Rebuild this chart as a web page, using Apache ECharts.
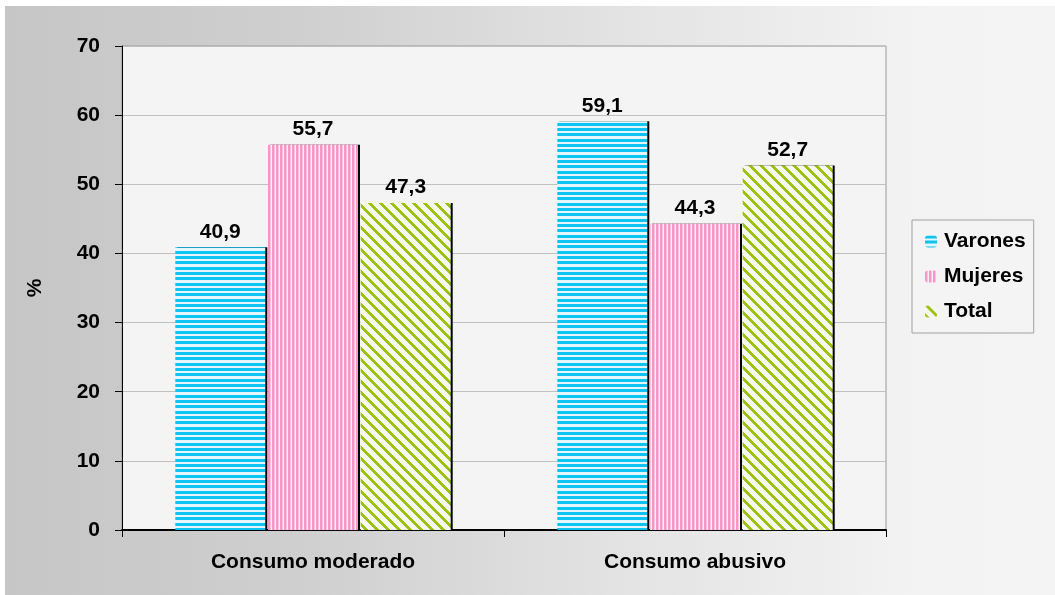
<!DOCTYPE html>
<html>
<head>
<meta charset="utf-8">
<title>Consumo</title>
<script src="https://cdn.jsdelivr.net/npm/echarts@6/dist/echarts.min.js"></script>
<style>
  html, body { margin: 0; padding: 0; background: #fff; }
  #chart { width: 1055px; height: 595px; }
</style>
</head>
<body>
<div id="chart"></div>
<script>
var categories = ['Consumo moderado', 'Consumo abusivo']
var seriesNames = ['Varones', 'Mujeres', 'Total']
var varones = [40.9, 59.1]
var mujeres = [55.7, 44.3]
var total = [47.3, 52.7]
var yTicks = [0, 10, 20, 30, 40, 50, 60, 70]

var FONT = '"Liberation Sans", Arial, sans-serif'

// builds a small repeating tile, pixel by pixel
function makeTile (w, h, paint) {
  var c = document.createElement('canvas')
  c.width = w
  c.height = h
  var ctx = c.getContext('2d')
  for (var y = 0; y < h; y++) {
    for (var x = 0; x < w; x++) {
      ctx.fillStyle = paint(x, y)
      ctx.fillRect(x, y, 1, 1)
    }
  }
  return { image: c, repeat: 'repeat' }
}

// horizontal cyan stripes
var cyanRows = [0, 1, 2, 5, 6, 7, 11, 12, 13]
var patVarones = makeTile(4, 16, function (x, y) {
  return cyanRows.indexOf(y) >= 0 ? '#0ec4f2' : '#e4f5fb'
})
// vertical pink stripes
var patMujeres = makeTile(4, 4, function (x, y) {
  return x < 2 ? '#f597c6' : (x === 2 ? '#f9c4de' : '#fbeef4')
})
// diagonal green stripes
var patTotal = makeTile(11, 11, function (x, y) {
  var d = ((x - y) % 11 + 11) % 11
  return d < 4 ? '#9cc20e' : '#f6f6f0'
})

var chart = echarts.init(document.getElementById('chart'))

var labelFmt = function (p) {
  return String(p.value).replace('.', ',')
}

function barSeries (name, data, pattern) {
  return {
    name: name,
    type: 'bar',
    data: data,
    barWidth: 90,
    barGap: '3%',
    itemStyle: {
      color: pattern,
      shadowColor: '#000',
      shadowBlur: 0,
      shadowOffsetX: 2,
      shadowOffsetY: 0
    },
    label: {
      show: true,
      position: 'top',
      distance: 5,
      formatter: labelFmt,
      color: '#000',
      fontFamily: FONT,
      fontWeight: 'bold',
      fontSize: 21
    }
  }
}

var option = {
  backgroundColor: '#ffffff',
  animation: false,
  graphic: {
    elements: [
      {
        type: 'rect',
        z: -10,
        silent: true,
        shape: { x: 5, y: 6, width: 1050, height: 589 },
        style: {
          fill: new echarts.graphic.LinearGradient(0, 0, 1, 0, [
            { offset: 0, color: '#c6c6c6' },
            { offset: 0.28, color: '#cfcfcf' },
            { offset: 0.57, color: '#e2e2e2' },
            { offset: 0.85, color: '#f2f2f2' },
            { offset: 1, color: '#f4f4f4' }
          ])
        }
      }
    ]
  },
  grid: {
    left: 122,
    right: 169,
    top: 46,
    bottom: 65,
    show: true,
    backgroundColor: '#f4f4f4',
    borderColor: '#9a9a9a',
    borderWidth: 1
  },
  legend: {
    data: seriesNames,
    orient: 'vertical',
    left: 912,
    top: 220,
    padding: [11, 8, 11, 13],
    itemGap: 14,
    itemWidth: 12,
    itemHeight: 12,
    backgroundColor: '#f4f4f4',
    borderColor: '#a0a0a0',
    borderWidth: 1,
    borderRadius: 0,
    itemStyle: { shadowColor: 'rgba(0,0,0,0)', shadowOffsetX: 0 },
    textStyle: {
      color: '#000',
      fontFamily: FONT,
      fontWeight: 'bold',
      fontSize: 21,
      lineHeight: 20,
      padding: [0, 0, 0, 2]
    }
  },
  xAxis: {
    type: 'category',
    data: categories,
    axisLine: { lineStyle: { color: '#000', width: 2 } },
    axisTick: { show: true, length: 7, lineStyle: { color: '#000' } },
    axisLabel: {
      margin: 22,
      color: '#000',
      fontFamily: FONT,
      fontWeight: 'bold',
      fontSize: 21
    }
  },
  yAxis: {
    type: 'value',
    min: yTicks[0],
    max: yTicks[yTicks.length - 1],
    interval: yTicks[1] - yTicks[0],
    name: '%',
    nameLocation: 'middle',
    nameGap: 76,
    nameTextStyle: {
      color: '#000',
      fontFamily: FONT,
      fontWeight: 'bold',
      fontSize: 21
    },
    axisLine: { show: true, lineStyle: { color: '#000', width: 1 } },
    axisTick: { show: true, length: 7, lineStyle: { color: '#000' } },
    splitLine: { lineStyle: { color: '#c0c0c0', width: 1 } },
    axisLabel: {
      margin: 22,
      color: '#000',
      fontFamily: FONT,
      fontWeight: 'bold',
      fontSize: 21
    }
  },
  series: [
    barSeries(seriesNames[0], varones, patVarones),
    barSeries(seriesNames[1], mujeres, patMujeres),
    barSeries(seriesNames[2], total, patTotal)
  ]
}

chart.setOption(option)
</script>
</body>
</html>
